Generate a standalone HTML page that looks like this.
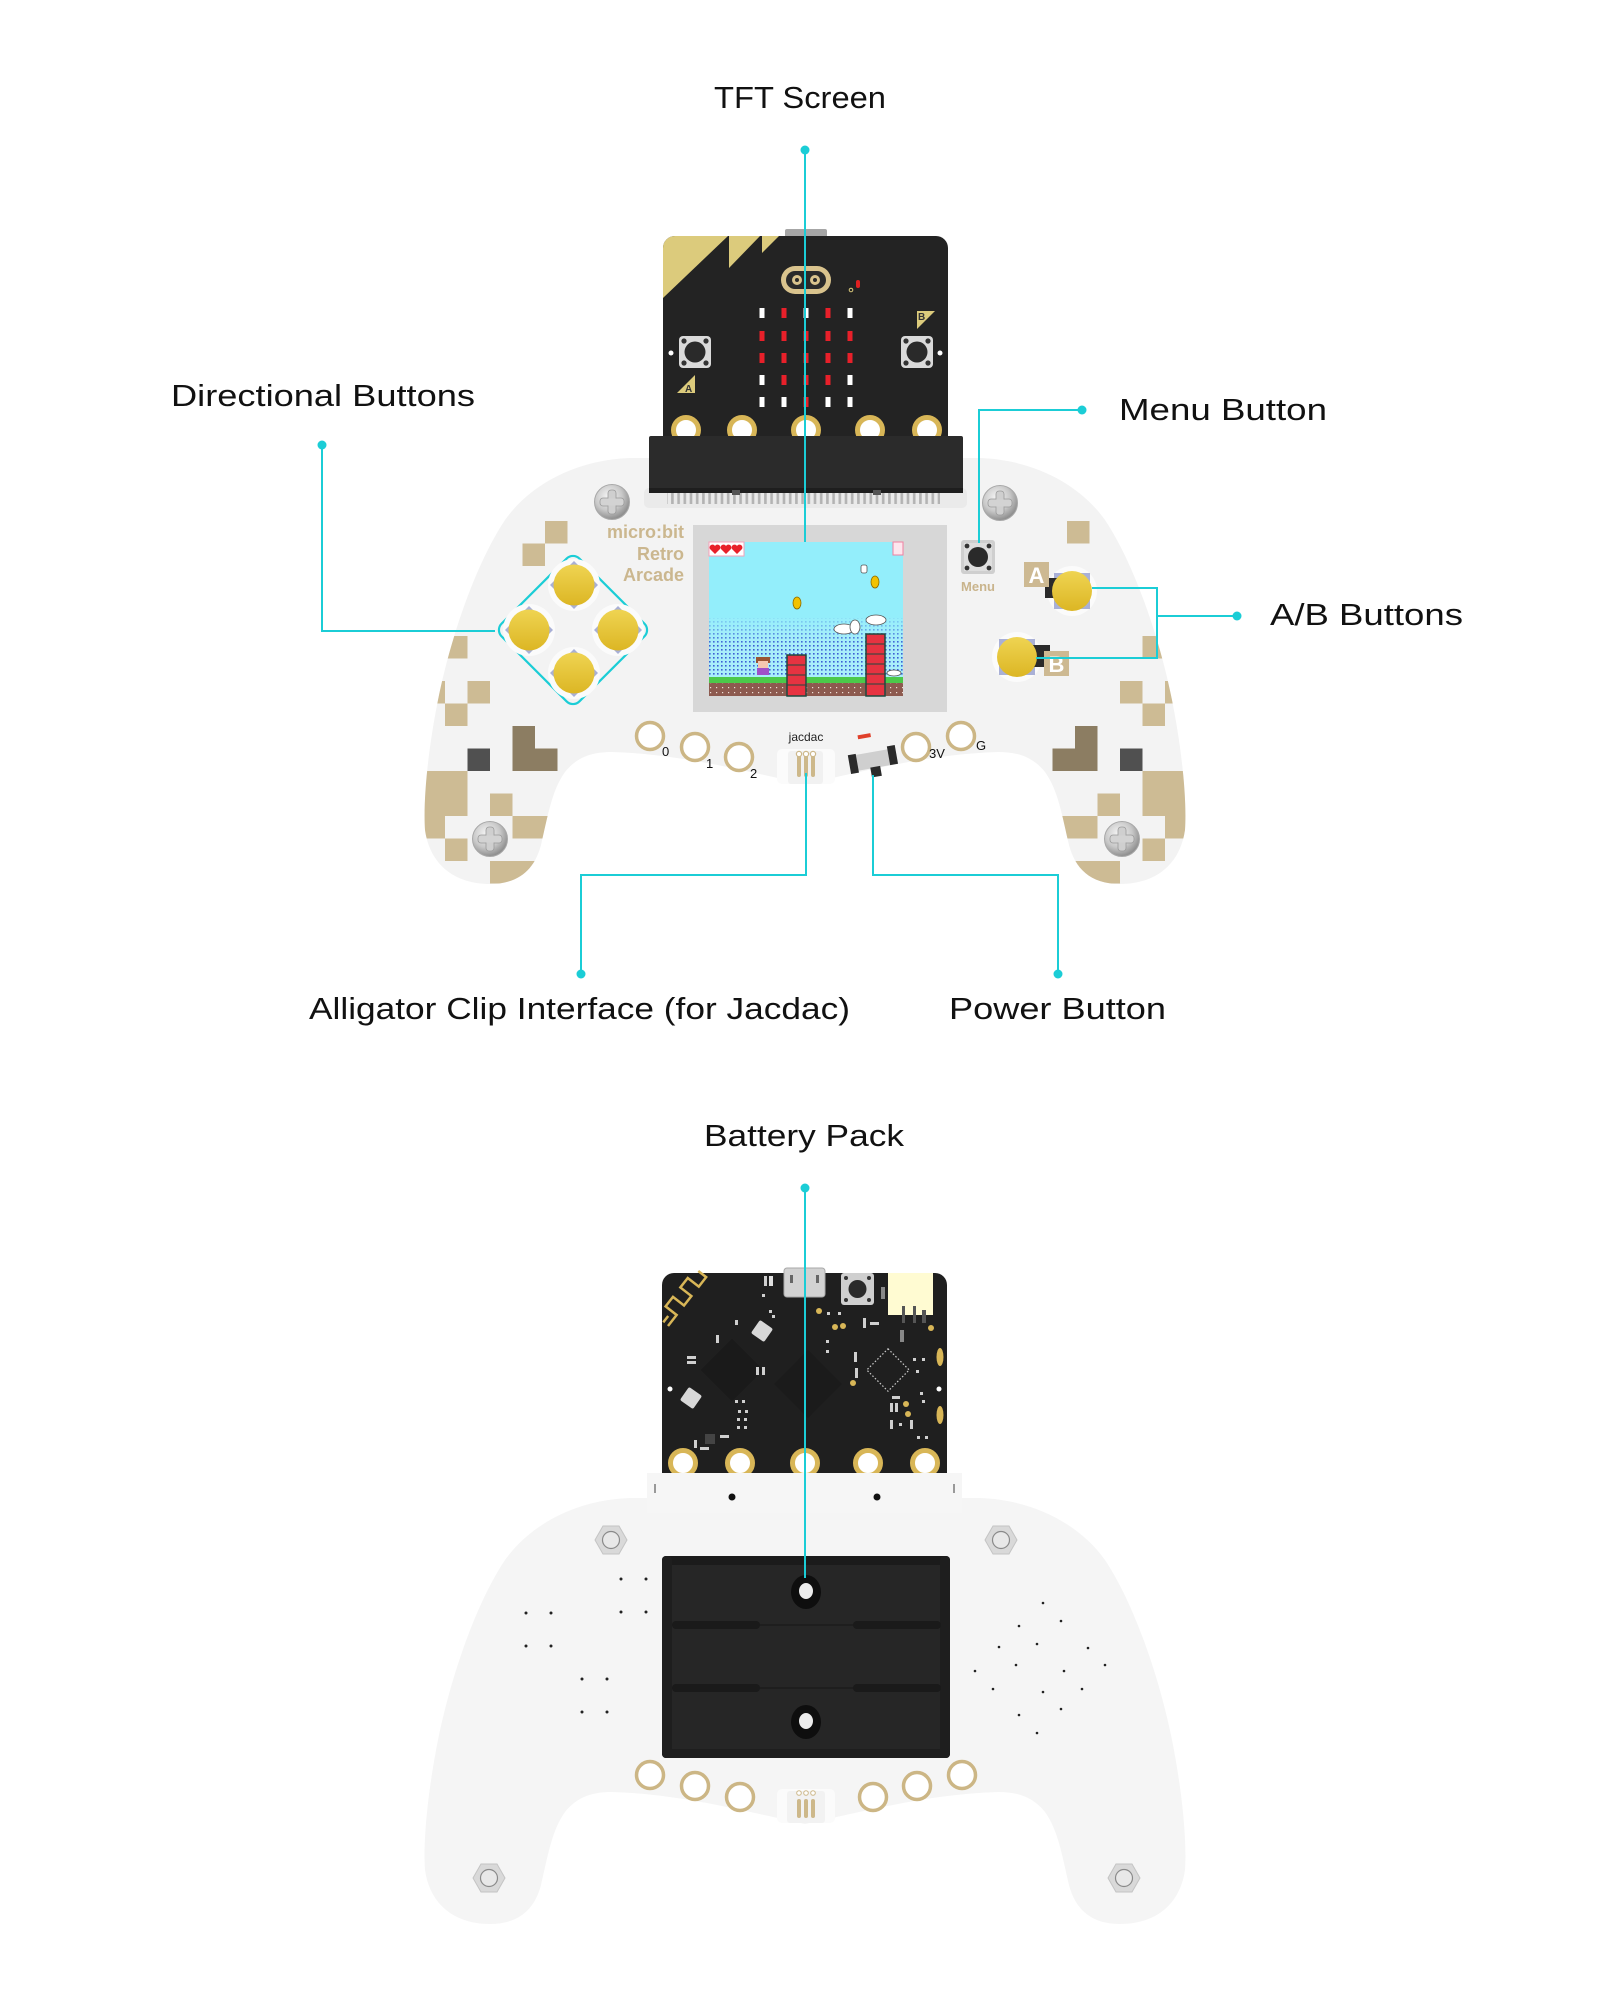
<!DOCTYPE html>
<html><head><meta charset="utf-8">
<style>
html,body{margin:0;padding:0;background:#fff;}
svg{display:block;}
text{font-family:"Liberation Sans",sans-serif;}
</style></head>
<body>
<svg width="1600" height="2000" viewBox="0 0 1600 2000" xmlns="http://www.w3.org/2000/svg">
<defs>
  <clipPath id="bodyClip"><path d="M805 458 L630 458 C575 460 530 485 505 520 C475 565 450 640 438 700 C428 750 423 800 425 830 C430 865 455 884 490 884 C520 884 535 868 541 845 C548 815 552 790 565 772 C577 757 592 752 612 752 C680 754 740 770 805 784 C870 770 930 754 998 752 C1018 752 1033 757 1045 772 C1058 790 1062 815 1069 845 C1075 868 1090 884 1120 884 C1155 884 1180 865 1185 830 C1187 800 1182 750 1172 700 C1160 640 1135 565 1105 520 C1080 485 1035 460 980 458 Z"/></clipPath>
  <clipPath id="mbClip"><rect x="663" y="236" width="285" height="215" rx="12"/></clipPath>
  <radialGradient id="silver" cx="40%" cy="35%" r="65%">
    <stop offset="0" stop-color="#f6f6f6"/><stop offset="0.6" stop-color="#c8c8c8"/><stop offset="1" stop-color="#8e8e8e"/>
  </radialGradient>
  <linearGradient id="yel" x1="0" y1="0" x2="0" y2="1">
    <stop offset="0" stop-color="#efd452"/><stop offset="1" stop-color="#dcb624"/>
  </linearGradient>
  <linearGradient id="skyfade" x1="0" y1="0" x2="0" y2="1">
    <stop offset="0" stop-color="#93eefb" stop-opacity="0.85"/><stop offset="1" stop-color="#93eefb" stop-opacity="0"/>
  </linearGradient>
  <pattern id="dots" width="4" height="4" patternUnits="userSpaceOnUse">
    <rect width="4" height="4" fill="#a9eefa"/><rect x="1" y="1" width="1.6" height="1.6" fill="#3b5fd4"/>
  </pattern>
  <pattern id="dirt" width="6" height="5" patternUnits="userSpaceOnUse">
    <rect width="6" height="5" fill="#8d5a4f"/><rect x="2" y="2" width="1.2" height="1.2" fill="#f0e0d8"/>
  </pattern>
  <pattern id="pins" width="6.2" height="12" patternUnits="userSpaceOnUse">
    <rect x="1.5" width="2.6" height="12" fill="#b3b3b3"/>
  </pattern>
  <g id="screw">
    <circle r="17.5" fill="url(#silver)" stroke="#a8a8a8" stroke-width="1"/>
    <rect x="-12" y="-4" width="24" height="8" rx="3" fill="#cfcfcf" stroke="#9a9a9a" stroke-width="0.8"/>
    <rect x="-4" y="-12" width="8" height="24" rx="3" fill="#cfcfcf" stroke="#9a9a9a" stroke-width="0.8"/>
    <rect x="-11.5" y="-3.5" width="23" height="7" rx="3" fill="#d3d3d3"/>
  </g>
  <g id="hex">
    <polygon points="-16,0 -8,-14 8,-14 16,0 8,14 -8,14" fill="#d9d9d9" stroke="#c4c4c4" stroke-width="1"/>
    <circle r="8.5" fill="#e8e8e8" stroke="#8a8a8a" stroke-width="1.2"/>
  </g>
  <g id="dbtn">
    <circle r="26" fill="#fbfbfb"/>
    <polygon points="0,-24 24,0 0,24 -24,0" fill="#a8afd6"/>
    <circle r="20.5" fill="url(#yel)"/>
  </g>
  <g id="ring">
    <circle r="13.5" fill="#ffffff" stroke="#ccb685" stroke-width="3.5"/>
  </g>
  <g id="mbpad">
    <circle r="12.5" fill="#ffffff" stroke="#d8b657" stroke-width="5"/>
  </g>
  <g id="mbbtn">
    <rect x="-16" y="-16" width="32" height="32" rx="4" fill="#dadada"/>
    <circle r="10.5" fill="#2a2a2a"/>
    <circle cx="-11" cy="-11" r="2.6" fill="#333"/><circle cx="11" cy="-11" r="2.6" fill="#333"/>
    <circle cx="-11" cy="11" r="2.6" fill="#333"/><circle cx="11" cy="11" r="2.6" fill="#333"/>
  </g>
</defs>

<rect width="1600" height="2000" fill="#ffffff"/>

<!-- ================= FRONT VIEW ================= -->
<path d="M805 458 L630 458 C575 460 530 485 505 520 C475 565 450 640 438 700 C428 750 423 800 425 830 C430 865 455 884 490 884 C520 884 535 868 541 845 C548 815 552 790 565 772 C577 757 592 752 612 752 C680 754 740 770 805 784 C870 770 930 754 998 752 C1018 752 1033 757 1045 772 C1058 790 1062 815 1069 845 C1075 868 1090 884 1120 884 C1155 884 1180 865 1185 830 C1187 800 1182 750 1172 700 C1160 640 1135 565 1105 520 C1080 485 1035 460 980 458 Z" fill="#f3f3f3"/>

<!-- pixel pattern -->
<g clip-path="url(#bodyClip)">
  <g fill="#cdbb94">
    <rect x="545" y="521" width="22.5" height="22.5"/>
    <rect x="522.5" y="543.5" width="22.5" height="22.5"/>
    <rect x="445" y="636" width="22.5" height="22.5"/>
    <rect x="422.5" y="681" width="22.5" height="22.5"/>
    <rect x="467.5" y="681" width="22.5" height="22.5"/>
    <rect x="445" y="703.5" width="22.5" height="22.5"/>
    <rect x="422.5" y="771" width="22.5" height="22.5"/>
    <rect x="445" y="771" width="22.5" height="22.5"/>
    <rect x="422.5" y="793.5" width="22.5" height="22.5"/>
    <rect x="445" y="793.5" width="22.5" height="22.5"/>
    <rect x="490" y="793.5" width="22.5" height="22.5"/>
    <rect x="422.5" y="816" width="22.5" height="22.5"/>
    <rect x="512.5" y="816" width="22.5" height="22.5"/>
    <rect x="535" y="816" width="22.5" height="22.5"/>
    <rect x="445" y="838.5" width="22.5" height="22.5"/>
    <rect x="490" y="861" width="22.5" height="22.5"/>
    <rect x="512.5" y="861" width="22.5" height="22.5"/>

    <rect x="1067" y="521" width="22.5" height="22.5"/>
    <rect x="1142.5" y="636" width="22.5" height="22.5"/>
    <rect x="1165" y="681" width="22.5" height="22.5"/>
    <rect x="1120" y="681" width="22.5" height="22.5"/>
    <rect x="1142.5" y="703.5" width="22.5" height="22.5"/>
    <rect x="1165" y="771" width="22.5" height="22.5"/>
    <rect x="1142.5" y="771" width="22.5" height="22.5"/>
    <rect x="1165" y="793.5" width="22.5" height="22.5"/>
    <rect x="1142.5" y="793.5" width="22.5" height="22.5"/>
    <rect x="1097.5" y="793.5" width="22.5" height="22.5"/>
    <rect x="1165" y="816" width="22.5" height="22.5"/>
    <rect x="1075" y="816" width="22.5" height="22.5"/>
    <rect x="1052.5" y="816" width="22.5" height="22.5"/>
    <rect x="1142.5" y="838.5" width="22.5" height="22.5"/>
    <rect x="1097.5" y="861" width="22.5" height="22.5"/>
    <rect x="1075" y="861" width="22.5" height="22.5"/>
  </g>
  <g fill="#8c7d62">
    <rect x="512.5" y="726" width="22.5" height="45"/>
    <rect x="512.5" y="748.5" width="45" height="22.5"/>
    <rect x="1075" y="726" width="22.5" height="45"/>
    <rect x="1052.5" y="748.5" width="45" height="22.5"/>
  </g>
  <g fill="#505050">
    <rect x="467.5" y="748.5" width="22.5" height="22.5"/>
    <rect x="1120" y="748.5" width="22.5" height="22.5"/>
  </g>
</g>

<!-- slot band under connector -->
<rect x="644" y="488" width="323" height="20" rx="5" fill="#eaeaea"/>

<!-- screws -->
<use href="#screw" x="612" y="502"/>
<use href="#screw" x="1000" y="503"/>
<use href="#screw" x="490" y="839"/>
<use href="#screw" x="1122" y="839"/>

<!-- brand text -->
<g font-weight="bold" font-size="18" fill="#cbb78f" text-anchor="end">
  <text x="684" y="538">micro:bit</text>
  <text x="684" y="560">Retro</text>
  <text x="684" y="581">Arcade</text>
</g>

<!-- screen -->
<rect x="693" y="525" width="254" height="187" fill="#d7d7d7"/>
<rect x="709" y="542" width="194" height="154" fill="#93eefb"/>
<rect x="709" y="618" width="194" height="59" fill="url(#dots)"/>
<rect x="709" y="618" width="194" height="26" fill="url(#skyfade)"/>
<rect x="709" y="677" width="194" height="6" fill="#4cc94a"/>
<rect x="709" y="683" width="194" height="13" fill="url(#dirt)"/>
<g fill="#e63341" stroke="#1f4a40" stroke-width="1.5">
  <rect x="787" y="655" width="19" height="41"/>
  <rect x="866" y="634" width="19" height="62"/>
</g>
<g stroke="#1f4a40" stroke-width="1">
  <line x1="787" y1="665" x2="806" y2="665"/><line x1="787" y1="675" x2="806" y2="675"/><line x1="787" y1="685" x2="806" y2="685"/>
  <line x1="866" y1="644" x2="885" y2="644"/><line x1="866" y1="654" x2="885" y2="654"/><line x1="866" y1="664" x2="885" y2="664"/><line x1="866" y1="674" x2="885" y2="674"/><line x1="866" y1="684" x2="885" y2="684"/>
</g>
<rect x="756" y="657" width="14" height="6" fill="#9a5533"/>
<rect x="758" y="661" width="10" height="7" fill="#f5c8b0"/>
<rect x="757" y="668" width="12" height="7" fill="#a050c8"/>
<ellipse cx="797" cy="603" rx="4" ry="6" fill="#f2c200" stroke="#8a6a00" stroke-width="0.8"/>
<ellipse cx="875" cy="582" rx="4" ry="6" fill="#f2c200" stroke="#8a6a00" stroke-width="0.8"/>
<rect x="861" y="565" width="6" height="8" rx="2" fill="#fff" stroke="#555" stroke-width="0.8"/>
<g fill="#fff" stroke="#555" stroke-width="0.8">
  <ellipse cx="844" cy="629" rx="10" ry="5"/>
  <ellipse cx="855" cy="627" rx="5" ry="7"/>
  <ellipse cx="876" cy="620" rx="10" ry="5"/>
  <ellipse cx="894" cy="673" rx="7" ry="3"/>
</g>
<rect x="709" y="542" width="35" height="14" fill="#fff" stroke="#f4a0b8" stroke-width="1"/>
<g fill="#e8202a">
  <path d="M715 554 l-5 -5 a2.6 2.6 0 0 1 5 -3 a2.6 2.6 0 0 1 5 3 z"/>
  <path d="M726 554 l-5 -5 a2.6 2.6 0 0 1 5 -3 a2.6 2.6 0 0 1 5 3 z"/>
  <path d="M737 554 l-5 -5 a2.6 2.6 0 0 1 5 -3 a2.6 2.6 0 0 1 5 3 z"/>
</g>
<rect x="893" y="542" width="10" height="13" fill="#fde6ee" stroke="#f080a0" stroke-width="1"/>

<!-- D-pad -->
<rect x="-55" y="-55" width="110" height="110" rx="9" transform="translate(573,630) rotate(45)" fill="none" stroke="#1bcdd6" stroke-width="2.2"/>
<use href="#dbtn" x="574" y="585"/>
<use href="#dbtn" x="529" y="630"/>
<use href="#dbtn" x="618" y="630"/>
<use href="#dbtn" x="574" y="673"/>

<!-- Menu button -->
<g transform="translate(978,557)">
  <rect x="-17" y="-17" width="34" height="34" rx="3" fill="#cfcfcf"/>
  <rect x="-14" y="-14" width="28" height="28" fill="#dedede"/>
  <circle r="10" fill="#2a2a2a"/>
  <circle cx="-11" cy="-11" r="2.4" fill="#333"/><circle cx="11" cy="-11" r="2.4" fill="#333"/>
  <circle cx="-11" cy="11" r="2.4" fill="#333"/><circle cx="11" cy="11" r="2.4" fill="#333"/>
</g>
<text x="978" y="591" font-size="13" font-weight="bold" fill="#c9b48c" text-anchor="middle">Menu</text>

<!-- A / B -->
<circle cx="1072" cy="591" r="25" fill="#fbfbfb"/>
<rect x="1054" y="573" width="36" height="36" fill="#a9b0d6"/>
<rect x="1045" y="578" width="15" height="20" fill="#2a2a2a"/>
<circle cx="1072" cy="591" r="20" fill="url(#yel)"/>
<rect x="1024" y="562" width="25" height="25" fill="#cdb992"/>
<text x="1036.5" y="583" font-size="22" font-weight="bold" fill="#ffffff" text-anchor="middle">A</text>

<circle cx="1017" cy="657" r="25" fill="#fbfbfb"/>
<rect x="999" y="639" width="36" height="36" fill="#a9b0d6"/>
<rect x="1033" y="645" width="17" height="22" fill="#2a2a2a"/>
<circle cx="1017" cy="657" r="20" fill="url(#yel)"/>
<rect x="1044" y="651" width="25" height="25" fill="#cdb992"/>
<text x="1056.5" y="672" font-size="22" font-weight="bold" fill="#ffffff" text-anchor="middle">B</text>

<!-- edge pads front -->
<use href="#ring" x="650" y="736"/>
<use href="#ring" x="695" y="747"/>
<use href="#ring" x="739" y="757"/>
<use href="#ring" x="916" y="747"/>
<use href="#ring" x="961" y="736"/>
<g font-size="13" fill="#111">
  <text x="662" y="756">0</text>
  <text x="706" y="768">1</text>
  <text x="750" y="778">2</text>
  <text x="929" y="758">3V</text>
  <text x="976" y="750">G</text>
</g>
<text x="806" y="741" font-size="12" fill="#222" text-anchor="middle">jacdac</text>

<!-- jacdac connector -->
<rect x="777" y="749" width="58" height="35" rx="5" fill="#fbfbfb"/>
<rect x="788" y="751" width="35" height="33" rx="3" fill="#f1f1f1"/>
<g fill="#cdb88a">
  <rect x="797" y="755" width="4" height="22" rx="2"/>
  <rect x="804" y="755" width="4" height="22" rx="2"/>
  <rect x="811" y="755" width="4" height="22" rx="2"/>
</g>
<g fill="#fff" stroke="#cdb88a" stroke-width="1.2">
  <circle cx="799" cy="754" r="2.6"/><circle cx="806" cy="754" r="2.6"/><circle cx="813" cy="754" r="2.6"/>
</g>

<!-- power switch -->
<g transform="rotate(-10 873 760)">
  <rect x="855" y="752" width="37" height="16" fill="#cfcfcf"/>
  <rect x="849" y="751" width="8" height="19" fill="#2a2a2a"/>
  <rect x="889" y="749" width="8" height="19" fill="#2a2a2a"/>
  <rect x="869" y="767" width="10" height="10" fill="#2a2a2a"/>
  <rect x="862" y="733" width="13" height="4" fill="#e0402a"/>
</g>

<!-- ===== micro:bit front ===== -->
<rect x="785" y="229" width="42" height="9" rx="2" fill="#a6a6a6"/>
<rect x="663" y="236" width="285" height="215" rx="12" fill="#232323"/>
<g clip-path="url(#mbClip)" fill="#dccb7c">
  <polygon points="663,236 728,236 663,298"/>
  <polygon points="729,236 760,236 729,268"/>
  <polygon points="762,236 779,236 762,253"/>
</g>
<rect x="781" y="266" width="50" height="28" rx="14" fill="#d9c38d"/>
<rect x="786" y="271" width="40" height="18" rx="9" fill="#2a2a2a"/>
<circle cx="797" cy="280" r="5" fill="#d9c38d"/><circle cx="797" cy="280" r="2" fill="#2a2a2a"/>
<circle cx="815" cy="280" r="5" fill="#d9c38d"/><circle cx="815" cy="280" r="2" fill="#2a2a2a"/>
<rect x="856" y="280" width="4" height="8" rx="2" fill="#e02020"/>
<circle cx="851" cy="290" r="1.8" fill="none" stroke="#dccb7c" stroke-width="1"/>
<!-- LEDs -->
<g>
  <rect x="759.5" y="308" width="5" height="10" fill="#fff"/><rect x="781.5" y="308" width="5" height="10" fill="#e8202a"/><rect x="803.5" y="308" width="5" height="10" fill="#fff"/><rect x="825.5" y="308" width="5" height="10" fill="#e8202a"/><rect x="847.5" y="308" width="5" height="10" fill="#fff"/>
  <rect x="759.5" y="331" width="5" height="10" fill="#e8202a"/><rect x="781.5" y="331" width="5" height="10" fill="#e8202a"/><rect x="803.5" y="331" width="5" height="10" fill="#e8202a"/><rect x="825.5" y="331" width="5" height="10" fill="#e8202a"/><rect x="847.5" y="331" width="5" height="10" fill="#e8202a"/>
  <rect x="759.5" y="353" width="5" height="10" fill="#e8202a"/><rect x="781.5" y="353" width="5" height="10" fill="#e8202a"/><rect x="803.5" y="353" width="5" height="10" fill="#e8202a"/><rect x="825.5" y="353" width="5" height="10" fill="#e8202a"/><rect x="847.5" y="353" width="5" height="10" fill="#e8202a"/>
  <rect x="759.5" y="375" width="5" height="10" fill="#fff"/><rect x="781.5" y="375" width="5" height="10" fill="#e8202a"/><rect x="803.5" y="375" width="5" height="10" fill="#e8202a"/><rect x="825.5" y="375" width="5" height="10" fill="#e8202a"/><rect x="847.5" y="375" width="5" height="10" fill="#fff"/>
  <rect x="759.5" y="397" width="5" height="10" fill="#fff"/><rect x="781.5" y="397" width="5" height="10" fill="#fff"/><rect x="803.5" y="397" width="5" height="10" fill="#e8202a"/><rect x="825.5" y="397" width="5" height="10" fill="#fff"/><rect x="847.5" y="397" width="5" height="10" fill="#fff"/>
</g>
<use href="#mbbtn" x="695" y="352"/>
<use href="#mbbtn" x="917" y="352"/>
<circle cx="671" cy="353" r="2.5" fill="#fff"/>
<circle cx="940" cy="353" r="2.5" fill="#fff"/>
<polygon points="677,393 695,393 695,375" fill="#dccb7c"/>
<text x="685" y="392" font-size="10" font-weight="bold" fill="#333">A</text>
<polygon points="917,311 935,311 917,329" fill="#dccb7c"/>
<text x="918" y="320" font-size="10" font-weight="bold" fill="#333">B</text>
<use href="#mbpad" x="686" y="430"/>
<use href="#mbpad" x="742" y="430"/>
<use href="#mbpad" x="806" y="430"/>
<use href="#mbpad" x="870" y="430"/>
<use href="#mbpad" x="927" y="430"/>
<!-- edge connector -->
<rect x="649" y="436" width="314" height="57" rx="2" fill="#2b2b2b"/>
<rect x="649" y="488" width="314" height="5" fill="#1e1e1e"/>
<rect x="667" y="493" width="273" height="11" fill="url(#pins)"/>
<rect x="732" y="490" width="8" height="5" fill="#555"/>
<rect x="873" y="490" width="8" height="5" fill="#555"/>

<!-- ================= BACK VIEW ================= -->
<path transform="translate(0,1040)" d="M805 458 L630 458 C575 460 530 485 505 520 C475 565 450 640 438 700 C428 750 423 800 425 830 C430 865 455 884 490 884 C520 884 535 868 541 845 C548 815 552 790 565 772 C577 757 592 752 612 752 C680 754 740 770 805 784 C870 770 930 754 998 752 C1018 752 1033 757 1045 772 C1058 790 1062 815 1069 845 C1075 868 1090 884 1120 884 C1155 884 1180 865 1185 830 C1187 800 1182 750 1172 700 C1160 640 1135 565 1105 520 C1080 485 1035 460 980 458 Z" fill="#f5f5f5"/>

<!-- back micro:bit -->
<rect x="662" y="1273" width="285" height="215" rx="12" fill="#1f1f1f"/>
<rect x="784" y="1268" width="41" height="29" rx="3" fill="#d2d2d2" stroke="#a8a8a8" stroke-width="1"/>
<rect x="790" y="1275" width="3" height="8" fill="#666"/><rect x="816" y="1275" width="3" height="8" fill="#666"/>
<rect x="841" y="1273" width="33" height="32" rx="3" fill="#cfcfcf"/>
<circle cx="857.5" cy="1289" r="9" fill="#2a2a2a"/>
<circle cx="846" cy="1278" r="2" fill="#333"/><circle cx="869" cy="1278" r="2" fill="#333"/><circle cx="846" cy="1300" r="2" fill="#333"/><circle cx="869" cy="1300" r="2" fill="#333"/>
<rect x="888" y="1273" width="45" height="42" fill="#fffbd2"/>
<rect x="902" y="1306" width="3" height="17" fill="#555"/><rect x="913" y="1306" width="3" height="17" fill="#555"/><rect x="922" y="1310" width="4" height="13" fill="#555"/>
<g transform="translate(668,1326) rotate(-52)" fill="none" stroke="#d8b657" stroke-width="2.5">
  <path d="M0 0 H14 V-14 H26 V0 H38 V-14 H50 V0 H62 V-10"/>
  <path d="M0 -6 H8"/>
</g>
<g transform="translate(762,1331) rotate(35)"><rect x="-8" y="-8" width="16" height="16" rx="2" fill="#d8d8d8"/></g>
<g transform="translate(691,1398) rotate(35)"><rect x="-8" y="-8" width="16" height="16" rx="2" fill="#d8d8d8"/></g>
<g transform="translate(732,1370) rotate(45)"><rect x="-22" y="-22" width="44" height="44" fill="#1a1a1a"/></g>
<g transform="translate(808,1384) rotate(45)"><rect x="-24" y="-24" width="48" height="48" fill="#1b1b1b"/></g>
<g transform="translate(888,1370) rotate(45)"><rect x="-15" y="-15" width="30" height="30" fill="none" stroke="#cfcfcf" stroke-width="1.2" stroke-dasharray="1.5 2"/></g>
<g fill="#cfcfcf">
  <rect x="764" y="1276" width="3" height="10"/><rect x="769" y="1276" width="4" height="10" fill="#e0e0e0"/>
  <rect x="762" y="1294" width="3" height="3"/><rect x="769" y="1310" width="3" height="3"/><rect x="772" y="1315" width="3" height="3"/>
  <rect x="687" y="1356" width="9" height="3"/><rect x="687" y="1361" width="9" height="3"/>
  <rect x="716" y="1335" width="3" height="8"/><rect x="735" y="1320" width="3" height="5"/>
  <rect x="756" y="1367" width="3" height="8"/><rect x="762" y="1367" width="3" height="8"/>
  <rect x="735" y="1400" width="3" height="3"/><rect x="742" y="1400" width="3" height="3"/><rect x="738" y="1410" width="3" height="3"/><rect x="745" y="1410" width="3" height="3"/>
  <rect x="737" y="1418" width="3" height="3"/><rect x="744" y="1418" width="3" height="3"/><rect x="737" y="1426" width="3" height="3"/><rect x="744" y="1426" width="3" height="3"/>
  <rect x="694" y="1440" width="3" height="8"/><rect x="700" y="1447" width="9" height="3"/><rect x="720" y="1435" width="9" height="3"/>
  <rect x="827" y="1312" width="3" height="3"/><rect x="838" y="1312" width="3" height="3"/>
  <rect x="863" y="1318" width="3" height="10"/><rect x="870" y="1322" width="9" height="3"/>
  <rect x="826" y="1340" width="3" height="3"/><rect x="826" y="1350" width="3" height="3"/>
  <rect x="854" y="1352" width="3" height="10"/><rect x="855" y="1368" width="3" height="10"/>
  <rect x="913" y="1358" width="3" height="3"/><rect x="922" y="1358" width="3" height="3"/>
  <rect x="916" y="1370" width="3" height="3"/><rect x="920" y="1392" width="3" height="3"/><rect x="922" y="1400" width="3" height="3"/>
  <rect x="892" y="1396" width="8" height="3"/><rect x="890" y="1403" width="3" height="9"/><rect x="895" y="1403" width="3" height="9"/>
  <rect x="890" y="1420" width="3" height="9"/><rect x="899" y="1423" width="3" height="3"/><rect x="910" y="1420" width="3" height="9"/>
  <rect x="917" y="1436" width="3" height="3"/><rect x="925" y="1436" width="3" height="3"/>
  <rect x="900" y="1330" width="4" height="12" fill="#888"/><rect x="881" y="1287" width="4" height="12" fill="#888"/>
</g>
<rect x="705" y="1434" width="10" height="10" fill="#444"/>
<g fill="#d8b657">
  <circle cx="819" cy="1311" r="3"/><circle cx="835" cy="1327" r="3"/><circle cx="843" cy="1326" r="3"/>
  <circle cx="931" cy="1328" r="3"/><circle cx="853" cy="1383" r="3"/><circle cx="906" cy="1404" r="3"/><circle cx="908" cy="1414" r="3"/>
  <ellipse cx="940" cy="1357" rx="3.5" ry="9"/><ellipse cx="940" cy="1415" rx="3.5" ry="9"/>
</g>
<circle cx="670" cy="1389" r="2.5" fill="#fff"/>
<circle cx="939" cy="1389" r="2.5" fill="#fff"/>
<use href="#mbpad" x="683" y="1463"/>
<use href="#mbpad" x="740" y="1463"/>
<use href="#mbpad" x="805" y="1463"/>
<use href="#mbpad" x="868" y="1463"/>
<use href="#mbpad" x="925" y="1463"/>
<!-- tray -->
<rect x="647" y="1473" width="315" height="40" fill="#f6f6f6"/>
<rect x="654" y="1484" width="2" height="9" fill="#999"/>
<rect x="953" y="1484" width="2" height="9" fill="#999"/>
<circle cx="732" cy="1497" r="3.5" fill="#111"/>
<circle cx="877" cy="1497" r="3.5" fill="#111"/>

<!-- hex screws -->
<use href="#hex" x="611" y="1540"/>
<use href="#hex" x="1001" y="1540"/>
<use href="#hex" x="489" y="1878"/>
<use href="#hex" x="1124" y="1878"/>

<!-- battery box -->
<rect x="662" y="1556" width="288" height="202" rx="5" fill="#262626"/>
<rect x="662" y="1556" width="288" height="9" rx="4" fill="#1b1b1b"/>
<rect x="662" y="1556" width="10" height="202" rx="4" fill="#1e1e1e"/>
<rect x="940" y="1556" width="10" height="202" rx="4" fill="#1e1e1e"/>
<rect x="662" y="1749" width="288" height="9" rx="4" fill="#1e1e1e"/>
<rect x="672" y="1624" width="268" height="2" fill="#1e1e1e"/>
<rect x="672" y="1687" width="268" height="2" fill="#1e1e1e"/>
<g fill="#1a1a1a">
  <rect x="672" y="1621" width="88" height="8" rx="4"/>
  <rect x="853" y="1621" width="88" height="8" rx="4"/>
  <rect x="672" y="1684" width="88" height="8" rx="4"/>
  <rect x="853" y="1684" width="88" height="8" rx="4"/>
</g>
<ellipse cx="806" cy="1592" rx="15" ry="17" fill="#0e0e0e"/>
<ellipse cx="806" cy="1591" rx="7" ry="8" fill="#ececec"/>
<ellipse cx="806" cy="1722" rx="15" ry="17" fill="#0e0e0e"/>
<ellipse cx="806" cy="1721" rx="7" ry="8" fill="#ececec"/>

<!-- back pads -->
<use href="#ring" x="650" y="1775"/>
<use href="#ring" x="695" y="1786"/>
<use href="#ring" x="740" y="1797"/>
<use href="#ring" x="873" y="1797"/>
<use href="#ring" x="917" y="1786"/>
<use href="#ring" x="962" y="1775"/>
<rect x="777" y="1789" width="58" height="34" rx="5" fill="#fbfbfb"/>
<rect x="787" y="1791" width="38" height="32" rx="3" fill="#f2f2f2"/>
<g fill="#cdb88a">
  <rect x="797" y="1799" width="4" height="19" rx="2"/>
  <rect x="804" y="1799" width="4" height="19" rx="2"/>
  <rect x="811" y="1799" width="4" height="19" rx="2"/>
</g>
<g fill="#fff" stroke="#cdb88a" stroke-width="1">
  <circle cx="799" cy="1793" r="2.3"/><circle cx="806" cy="1793" r="2.3"/><circle cx="813" cy="1793" r="2.3"/>
</g>

<!-- back tiny dots -->
<g fill="#222">
  <circle cx="621" cy="1579" r="1.5"/><circle cx="646" cy="1579" r="1.5"/>
  <circle cx="621" cy="1612" r="1.5"/><circle cx="646" cy="1612" r="1.5"/>
  <circle cx="526" cy="1613" r="1.5"/><circle cx="551" cy="1613" r="1.5"/>
  <circle cx="526" cy="1646" r="1.5"/><circle cx="551" cy="1646" r="1.5"/>
  <circle cx="582" cy="1679" r="1.5"/><circle cx="607" cy="1679" r="1.5"/>
  <circle cx="582" cy="1712" r="1.5"/><circle cx="607" cy="1712" r="1.5"/>
  <circle cx="1043" cy="1603" r="1.3"/><circle cx="1061" cy="1621" r="1.3"/><circle cx="1019" cy="1626" r="1.3"/>
  <circle cx="1037" cy="1644" r="1.3"/><circle cx="999" cy="1647" r="1.3"/><circle cx="1088" cy="1648" r="1.3"/>
  <circle cx="1016" cy="1665" r="1.3"/><circle cx="1105" cy="1665" r="1.3"/><circle cx="975" cy="1671" r="1.3"/>
  <circle cx="1064" cy="1671" r="1.3"/><circle cx="993" cy="1689" r="1.3"/><circle cx="1043" cy="1692" r="1.3"/>
  <circle cx="1082" cy="1689" r="1.3"/><circle cx="1061" cy="1709" r="1.3"/><circle cx="1019" cy="1715" r="1.3"/>
  <circle cx="1037" cy="1733" r="1.3"/>
</g>

<!-- ================= CONNECTORS ================= -->
<g fill="none" stroke="#1bcdd6" stroke-width="2">
  <line x1="805" y1="150" x2="805" y2="542"/>
  <polyline points="322,445 322,631 495,631"/>
  <polyline points="1082,410 979,410 979,543"/>
  <polyline points="1237,616 1157,616"/>
  <polyline points="1092,588 1157,588 1157,658 1036,658"/>
  <polyline points="806,773 806,875 581,875 581,974"/>
  <polyline points="873,775 873,875 1058,875 1058,974"/>
  <line x1="805" y1="1188" x2="805" y2="1578"/>
</g>
<g fill="#1bcdd6">
  <circle cx="805" cy="150" r="4.5"/>
  <circle cx="322" cy="445" r="4.5"/>
  <circle cx="1082" cy="410" r="4.5"/>
  <circle cx="1237" cy="616" r="4.5"/>
  <circle cx="581" cy="974" r="4.5"/>
  <circle cx="1058" cy="974" r="4.5"/>
  <circle cx="805" cy="1188" r="4.5"/>
</g>

<!-- ================= LABELS ================= -->
<g font-size="31" fill="#111">
  <text x="714" y="108" textLength="172" lengthAdjust="spacingAndGlyphs">TFT Screen</text>
  <text x="171" y="406" textLength="304" lengthAdjust="spacingAndGlyphs">Directional Buttons</text>
  <text x="1119" y="420" textLength="208" lengthAdjust="spacingAndGlyphs">Menu Button</text>
  <text x="1270" y="625" textLength="193" lengthAdjust="spacingAndGlyphs">A/B Buttons</text>
  <text x="309" y="1019" textLength="541" lengthAdjust="spacingAndGlyphs">Alligator Clip Interface (for Jacdac)</text>
  <text x="949" y="1019" textLength="217" lengthAdjust="spacingAndGlyphs">Power Button</text>
  <text x="704" y="1146" textLength="200" lengthAdjust="spacingAndGlyphs">Battery Pack</text>
</g>
</svg>
</body></html>
